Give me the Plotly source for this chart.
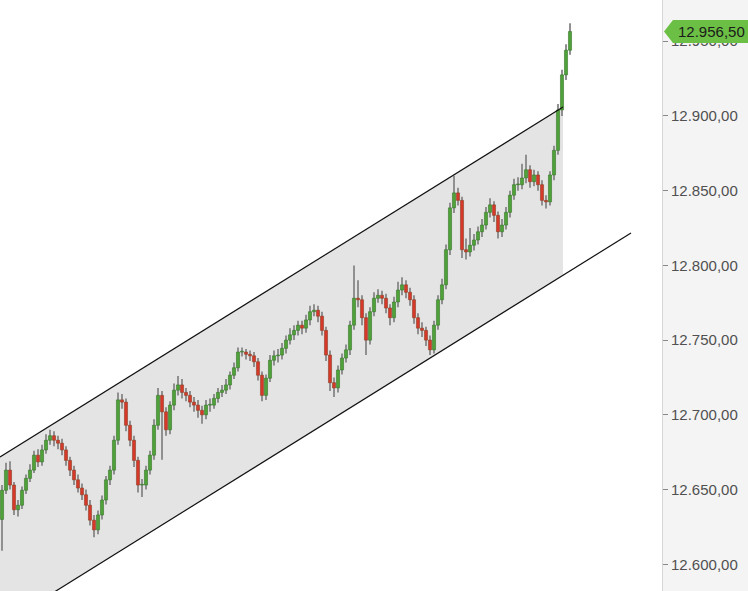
import plotly.graph_objects as go

# ---- data ----
opens = [12630, 12649.5, 12663, 12653, 12636.5, 12639.5, 12649.5, 12657.5, 12663, 12673,
         12668.5, 12676.5, 12683, 12686, 12683, 12681, 12676.5, 12669.5, 12663, 12656.5,
         12651, 12646.5, 12639.5, 12629.5, 12623, 12633, 12643, 12656.5, 12663, 12683,
         12710, 12708.5, 12693, 12683, 12669.5, 12653, 12653, 12663, 12673, 12693,
         12713, 12702, 12690, 12706.5, 12716.5, 12720, 12715, 12713, 12708.5, 12706.5,
         12703, 12700, 12706.5, 12706.5, 12711, 12715, 12716.5, 12720, 12726.5, 12731.5,
         12742, 12742, 12740.5, 12739.5, 12735.5, 12726.5, 12713, 12724.5, 12736.5, 12739.5,
         12740, 12744.5, 12750, 12753.5, 12756.5, 12760, 12758, 12763.5, 12769, 12770,
         12766, 12756.5, 12740, 12721.5, 12718, 12730, 12738, 12743.5, 12760, 12778,
         12777, 12765, 12750, 12769, 12778, 12780, 12778, 12771.5, 12765, 12775.5,
         12783.5, 12787, 12782, 12777, 12765, 12758, 12756.5, 12750, 12743.5, 12760,
         12777, 12787, 12810.5, 12838.5, 12848.5, 12843.5, 12810.5, 12809, 12813.5, 12817,
         12822.5, 12827, 12835.5, 12840.5, 12833.5, 12822.5, 12827, 12835.5, 12847, 12854,
         12854, 12858.5, 12864, 12856, 12860.5, 12854, 12843.5, 12842.5, 12860.5, 12877,
         12904, 12927.5, 12944]
closes = [12649.5, 12663, 12653, 12636.5, 12639.5, 12649.5, 12657.5, 12663, 12673, 12668.5,
          12676.5, 12683, 12686, 12683, 12681, 12676.5, 12669.5, 12663, 12656.5, 12651,
          12646.5, 12639.5, 12629.5, 12623, 12633, 12643, 12656.5, 12663, 12683, 12710,
          12708.5, 12693, 12683, 12669.5, 12653, 12653, 12663, 12673, 12693, 12713,
          12702, 12690, 12706.5, 12716.5, 12720, 12715, 12713, 12708.5, 12706.5, 12703,
          12700, 12706.5, 12706.5, 12711, 12715, 12716.5, 12720, 12726.5, 12731.5, 12742,
          12742, 12740.5, 12739.5, 12735.5, 12726.5, 12713, 12724.5, 12736.5, 12739.5, 12740,
          12744.5, 12750, 12753.5, 12756.5, 12760, 12758, 12763.5, 12769, 12770, 12766,
          12756.5, 12740, 12721.5, 12718, 12730, 12738, 12743.5, 12760, 12778, 12777,
          12765, 12750, 12769, 12778, 12780, 12778, 12771.5, 12765, 12775.5, 12783.5,
          12787, 12782, 12777, 12765, 12758, 12756.5, 12750, 12743.5, 12760, 12777,
          12787, 12810.5, 12838.5, 12848.5, 12843.5, 12810.5, 12809, 12813.5, 12817, 12822.5,
          12827, 12835.5, 12840.5, 12833.5, 12822.5, 12827, 12835.5, 12847, 12854, 12854,
          12858.5, 12864, 12856, 12860.5, 12854, 12843.5, 12842.5, 12860.5, 12877, 12904,
          12927.5, 12944, 12956.5]
highs = [12653, 12668, 12669, 12655, 12643, 12652, 12660, 12667, 12676, 12677,
         12680, 12687, 12690, 12689, 12686, 12684, 12679, 12672, 12666, 12660,
         12654, 12650, 12643, 12633, 12636, 12646, 12659, 12666, 12686, 12715,
         12714, 12711, 12696, 12686, 12672, 12657, 12666, 12676, 12697, 12718,
         12716, 12705, 12709, 12721, 12726, 12724, 12718, 12716, 12712, 12710,
         12706, 12710, 12711, 12714, 12718, 12720, 12724, 12729, 12735, 12745,
         12745, 12744, 12743, 12742, 12738, 12729, 12727, 12740, 12743, 12744,
         12748, 12753, 12758, 12760, 12763, 12763, 12767, 12773, 12774, 12773,
         12769, 12759, 12743, 12725, 12733, 12741, 12747, 12763, 12800, 12790,
         12780, 12768, 12772, 12782, 12784, 12783, 12781, 12774, 12779, 12789,
         12792, 12790, 12785, 12780, 12768, 12762, 12759, 12753, 12763, 12780,
         12791, 12814, 12842, 12860, 12852, 12846, 12818, 12825, 12821, 12826,
         12831, 12839, 12845, 12843, 12836, 12831, 12839, 12850, 12858, 12859,
         12868, 12874, 12867, 12864, 12863, 12857, 12847, 12863, 12880, 12908,
         12931, 12948, 12962]
lows = [12609, 12647, 12650, 12633, 12632, 12637, 12647, 12655, 12661, 12665,
        12666, 12674, 12680, 12679, 12677, 12673, 12666, 12659, 12653, 12648,
        12643, 12636, 12626, 12618, 12620, 12630, 12640, 12653, 12660, 12680,
        12704, 12689, 12679, 12665, 12648, 12645, 12650, 12660, 12670, 12690,
        12670, 12686, 12687, 12703, 12713, 12711, 12709, 12705, 12702, 12698,
        12694, 12697, 12702, 12704, 12708, 12712, 12714, 12717, 12724, 12729,
        12739, 12737, 12736, 12732, 12723, 12709, 12710, 12722, 12733, 12735,
        12737, 12741, 12747, 12750, 12753, 12754, 12755, 12760, 12766, 12762,
        12753, 12736, 12716, 12712, 12715, 12727, 12735, 12740, 12757, 12772,
        12760, 12740, 12747, 12766, 12775, 12774, 12768, 12760, 12762, 12772,
        12780, 12778, 12773, 12761, 12754, 12752, 12746, 12740, 12741, 12757,
        12774, 12784, 12807, 12835, 12840, 12805, 12804, 12806, 12810, 12814,
        12819, 12824, 12832, 12829, 12818, 12819, 12824, 12832, 12844, 12850,
        12851, 12855, 12852, 12853, 12850, 12840, 12838, 12840, 12857, 12874,
        12900, 12924, 12941]

# channel (trend lines) endpoints, x in candle-index units
channel_x = [-0.5, 140.25, 157.25]
upper_y = [12671.8, 12906.0]
lower_y = [12558.8, 12793.3, 12821.7]

tick_vals = [12600, 12650, 12700, 12750, 12800, 12850, 12900, 12950]
last_price = 12956.5
last_label = "12.956,50"

# ---- figure ----
n = len(closes)
idx = list(range(n))

fig = go.Figure()

# channel shading (below all traces)
fig.add_shape(type="path", xref="x", yref="y", layer="below",
              path=(f"M {channel_x[0]},{upper_y[0]} L {channel_x[1]},{upper_y[1]} "
                    f"L {channel_x[1]},{lower_y[1]} L {channel_x[0]},{lower_y[0]} Z"),
              fillcolor="#e4e4e4", line=dict(width=0))

# wicks (thin bars, drawn before bodies)
fig.add_trace(go.Bar(x=idx, y=[highs[i] - lows[i] for i in idx], base=lows, width=0.25,
                     marker=dict(color="#909090", line=dict(width=0)), hoverinfo="skip"))

# bodies
for up, fill, edge in [(True, "#4fa238", "#36752a"), (False, "#d6392c", "#8a3f22")]:
    xs, base, h = [], [], []
    for i in idx:
        if (closes[i] >= opens[i]) == up:
            xs.append(i)
            lo = min(opens[i], closes[i])
            base.append(lo)
            h.append(max(abs(closes[i] - opens[i]), 0.5))
    fig.add_trace(go.Bar(x=xs, y=h, base=base, width=0.78,
                         marker=dict(color=fill, line=dict(color=edge, width=0.6)),
                         hoverinfo="skip"))

# channel lines
fig.add_trace(go.Scatter(x=channel_x[:2], y=upper_y, mode="lines",
                         line=dict(color="#111111", width=1.2), hoverinfo="skip"))
fig.add_trace(go.Scatter(x=[channel_x[0], channel_x[2]], y=[lower_y[0], lower_y[2]],
                         mode="lines", line=dict(color="#111111", width=1.2),
                         hoverinfo="skip"))

plot_w = 662.0
def px(p):
    return p / plot_w

# last price tag
fig.add_shape(type="path", xref="paper", yref="y", layer="above",
              path=(f"M {px(664)},{last_price} L {px(673)},12964.2 L {px(748)},12964.2 "
                    f"L {px(748)},12948.8 L {px(673)},12948.8 Z"),
              fillcolor="#6cbf45", line=dict(width=0))
fig.add_annotation(xref="paper", yref="y", x=px(676), y=last_price, text=last_label,
                   xanchor="left", yanchor="middle", showarrow=False,
                   font=dict(family="Liberation Sans, Arial", size=15, color="#1a1a1a"))

fig.update_layout(
    width=748, height=591,
    margin=dict(l=0, r=86, t=0, b=0),
    paper_bgcolor="#f4f4f4", plot_bgcolor="#ffffff",
    showlegend=False, barmode="overlay", separators=",.",
    xaxis=dict(range=[-0.5, 165.0], visible=False, fixedrange=True),
    yaxis=dict(range=[12582.1, 12977.6], side="right", tickvals=tick_vals,
               tickformat=",.2f", ticks="outside", ticklen=5, tickcolor="#888888",
               showgrid=False, zeroline=False, showline=True, linecolor="#d6d6d6",
               tickfont=dict(family="Liberation Sans, Arial", size=15, color="#505050"),
               fixedrange=True),
)

fig.write_html("out.html", config={"displayModeBar": False},
               post_script="document.body.style.margin='0';document.body.style.padding='0';")
